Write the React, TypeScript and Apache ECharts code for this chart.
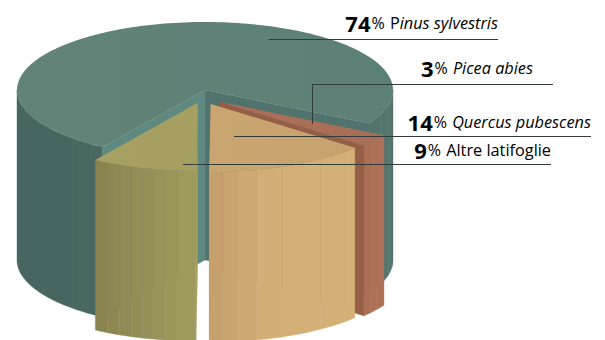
import React, { useEffect, useRef } from "react";
import * as echarts from "echarts";

const species = ["Pinus sylvestris", "Picea abies", "Quercus pubescens", "Altre latifoglie"];
const shares = [74, 3, 14, 9];

// --- drawing constants (not data) ---
const CX = 205, CY = 90, RX = 188, RY = 68, DEPTH = 170;
const FIRST_ANGLE = 122.9;
const offsets = [[0, 0], [15, 12], [6, 14], [-7.5, 13]];
const topFill = [["#628478", "#5c7f77"], ["#ab7057", "#a86e55"], ["#c9a570", "#c7a26e"], ["#a6a163", "#a5a062"]];
const sideLeft = ["#476560", "#ab6f55", "#c49f6c", "#89834f"];
const sideRight = ["#52756e", "#ad7258", "#d5b076", "#a09c60"];
const cutFill = ["#5f8880", "#945e47", "#c5a06d", "#a39f62"];
const facetEdges = [
  [0, 6, 13, 20, 29.3, 123, 128.5, 135, 180],
  [29.3, 33, 37, 40.1],
  [40.1, 44.5, 54.5, 67.8, 76, 82, 86.6, 90.5],
  [90.5, 96, 99.8, 103.5, 107, 110.5, 114.5, 118.6, 122.9],
];
const rightWallFill = "#51736d";
const ink = "#2b2b2b";

const startAngles = shares.map((_, i) =>
  shares.slice(0, i).reduce((a, s) => a + s * 3.6, FIRST_ANGLE)
);

const rad = (d: number) => (d * Math.PI) / 180;
const rim = (t: number, ox: number, oy: number, dy = 0): number[] => [
  CX + ox + RX * Math.cos(rad(t)),
  CY + oy + RY * Math.sin(rad(t)) + dy,
];
const arc = (a: number, b: number, ox: number, oy: number, dy = 0) => {
  const n = Math.max(2, Math.ceil(Math.abs(b - a) / 1.5));
  const pts: number[][] = [];
  for (let k = 0; k <= n; k++) pts.push(rim(a + ((b - a) * k) / n, ox, oy, dy));
  return pts;
};
const hex = (h: string) => [1, 3, 5].map((v) => parseInt(h.slice(v, v + 2), 16));
const mix = (a: string, b: string, f: number) => {
  const A = hex(a), B = hex(b);
  return `rgb(${A.map((v, i) => Math.round(v + (B[i] - v) * f)).join(",")})`;
};
const poly = (points: number[][], fill: any, stroke?: string) => ({
  type: "polygon",
  shape: { points },
  style: { fill, stroke: stroke ?? (typeof fill === "string" ? fill : "none"), lineWidth: 0.4 },
  silent: true,
});

function renderSlice(params: any, api: any) {
  const i = params.dataIndex;
  const start = startAngles[i];
  const end = start + api.value(0) * 3.6;
  const [ox, oy] = offsets[i];
  const apex = [CX + ox, CY + oy];
  const children: any[] = [];

  // outer facets, only the part turned to the viewer
  const edges = facetEdges[i];
  for (let k = 0; k < edges.length - 1; k++) {
    const a = edges[k], b = edges[k + 1];
    if (i === 0 && a === 29.3) continue;
    // 0 = left of the slice's face, 1 = right of it
    const xs = Math.cos(rad((a + b) / 2));
    let f: number;
    if (i === 0) f = (xs + 1) / 2;
    else {
      const left = Math.cos(rad(edges[edges.length - 1]));
      const right = Math.cos(rad(edges[0]));
      f = (xs - left) / (right - left);
      if (i === 2) f = Math.min(1, f * 2.2);
    }
    children.push(
      poly(
        [...arc(a, b, ox, oy), ...arc(b, a, ox, oy, DEPTH)],
        mix(sideLeft[i], sideRight[i], f),
        mix(sideLeft[i], sideRight[i], Math.max(0, f - 0.09))
      )
    );
  }

  // cut faces
  if (i === 0) {
    const e = rim(end, 0, 0), s = rim(start, 0, 0);
    children.push(poly([apex, e, [e[0], e[1] + DEPTH], [apex[0], apex[1] + DEPTH]], rightWallFill));
    children.push(poly([apex, s, [s[0], s[1] + DEPTH], [apex[0], apex[1] + DEPTH]], cutFill[0]));
  } else {
    const a = i === 3 ? rim(start, ox, oy) : rim(end, ox, oy);
    children.push(poly([apex, a, [a[0], a[1] + DEPTH], [apex[0], apex[1] + DEPTH]], cutFill[i]));
  }

  // top face
  children.push(
    poly(
      [apex, ...arc(start, end, ox, oy)],
      new echarts.graphic.LinearGradient(0, 0, 1, 0, [
        { offset: 0, color: topFill[i][0] },
        { offset: 1, color: topFill[i][1] },
      ])
    )
  );
  return { type: "group", children };
}

// --- labels ---
const labelRight = [498, 533, 591, 551];
const labelMid = [23, 68, 122, 150];
const ruleY = [39.5, 84.5, 136.5, 164.5];
const ruleFrom = [269, 312, 234, 183];
const ruleTo = [498, 553, 591, 551];

const labelText = (i: number) => {
  const name = species[i];
  const tail = i === 0 ? `{up|${name[0]}}{it|${name.slice(1)}}` : i === 3 ? `{up|${name}}` : `{it|${name}}`;
  return `{n|${shares[i]}}{p|% }${tail}`;
};

export default function App() {
  const ref = useRef<HTMLDivElement>(null);
  useEffect(() => {
    document.body.style.margin = "0";
    const chart = echarts.init(ref.current!, undefined, { renderer: "svg" });
    const rich = {
      n: { fontFamily: "Open Sans", fontWeight: 700, fontSize: 22, color: ink },
      p: { fontFamily: "Open Sans", fontSize: 16, color: ink, padding: [0, 1, 0, 1] },
      up: { fontFamily: "Open Sans", fontSize: 16.3, color: ink },
      it: { fontFamily: "Open Sans", fontStyle: "italic", fontSize: 16.3, color: ink },
    };
    chart.setOption({
      animation: false,
      series: [
        {
          type: "custom",
          coordinateSystem: "none",
          silent: true,
          clip: false,
          data: shares.map((v) => [v]),
          renderItem: renderSlice,
        },
      ],
      graphic: {
        elements: [
          ...species.map((_, i) => ({
            type: "line",
            z: 10,
            silent: true,
            shape: { x1: ruleFrom[i], y1: ruleY[i], x2: ruleTo[i], y2: ruleY[i] },
            style: { stroke: "#333a3a", lineWidth: 1 },
          })),
          {
            type: "line",
            z: 10,
            silent: true,
            shape: { x1: 312.5, y1: 84.5, x2: 312.5, y2: 124 },
            style: { stroke: "#333a3a", lineWidth: 1 },
          },
          ...species.map((_, i) => ({
            type: "text",
            z: 11,
            silent: true,
            x: labelRight[i],
            y: labelMid[i],
            style: { text: labelText(i), rich, align: "right", verticalAlign: "middle" },
          })),
        ],
      },
    });
    return () => chart.dispose();
  }, []);
  return <div ref={ref} style={{ width: 605, height: 340, overflow: "hidden" }} />;
}
